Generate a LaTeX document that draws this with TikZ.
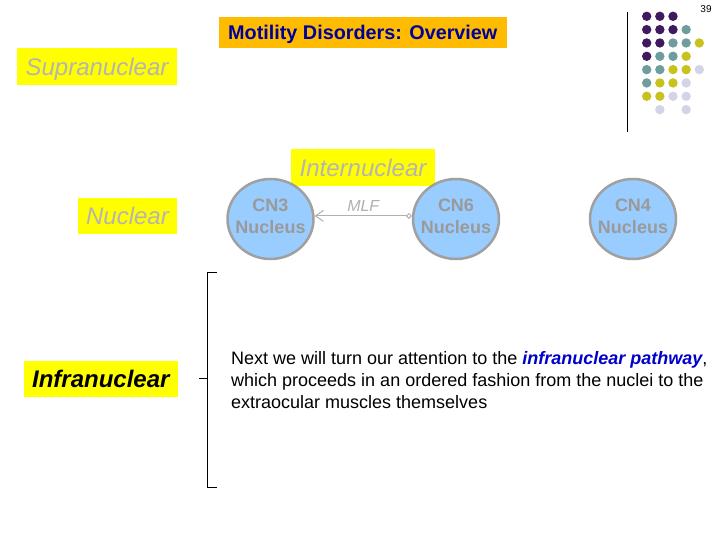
\documentclass[tikz,border=0pt]{standalone}
\usepackage{fontspec}
\setmainfont{Liberation Sans}
\usetikzlibrary{shapes.geometric,arrows.meta,calc}
\definecolor{titleorange}{HTML}{FFBB00}
\definecolor{titleblue}{HTML}{000099}
\definecolor{boxyellow}{HTML}{FFFF00}
\definecolor{fadedgray}{HTML}{B4B4B4}
\definecolor{nucfill}{HTML}{99CCFF}
\definecolor{nucborder}{HTML}{A0A0A0}
\definecolor{nuctext}{HTML}{9A9A9A}
\definecolor{linkgray}{HTML}{B0B0B0}
\definecolor{emphblue}{HTML}{0000CC}
\definecolor{dotpurple}{HTML}{3F1A5E}
\definecolor{dotteal}{HTML}{6F9C9C}
\definecolor{dotyellow}{HTML}{C8C21E}
\definecolor{dotlav}{HTML}{D4D4E8}
\tikzset{
  labelbox/.style={fill=boxyellow, inner sep=0pt, text height=17.2pt, text depth=0pt,
    font=\fontsize{24}{28}\selectfont\itshape},
  nucleus/.style={ellipse, draw=nucborder, line width=2.5pt, fill=nucfill, inner sep=0pt,
    minimum width=86pt, minimum height=80pt},
  nuclabel/.style={align=center, text=nuctext, inner sep=0pt,
    font=\fontsize{18}{22}\selectfont\bfseries},
  paraline/.style={anchor=base west, inner sep=0pt, font=\fontsize{18}{22}\selectfont},
  dot/.style={circle, inner sep=0pt, minimum size=9.4pt},
}
\begin{document}
\begin{tikzpicture}[x=1pt,y=-1pt]
\useasboundingbox[fill=white] (0,0) rectangle (720,540);
% slide number
\node[font=\fontsize{10}{12}\selectfont, inner sep=0pt] (num) at (706,9) {39};
% title
\node[fill=titleorange, text=titleblue, inner sep=0pt, minimum width=287.7pt, minimum height=31pt,
  text height=14.2pt, text depth=0pt, font=\fontsize{19.8}{24}\selectfont\bfseries] (title) at (362.8,32.8)
  {Motility Disorders: Overview};
% level boxes
\node[labelbox, text=fadedgray, minimum width=159.4pt, minimum height=36.7pt] (supra) at (97,66.7) {Supranuclear};
\node[labelbox, text=fadedgray, minimum width=144pt, minimum height=36.4pt] (inter) at (363,167.5) {Internuclear};
\node[labelbox, text=fadedgray, minimum width=98.4pt, minimum height=36pt] (nuc) at (127.5,216.3) {Nuclear};
\node[labelbox, text=black, minimum width=153.7pt, minimum height=36.3pt, font=\fontsize{24}{28}\selectfont\bfseries\itshape] (infra) at (100.8,379.2) {Infranuclear};
% nuclei
\node[nucleus] (cn3) at (270.5,219) {};
\node[nucleus] (cn6) at (456,219) {};
\node[nucleus] (cn4) at (633,219) {};
\node[nuclabel] (cn3t) at ($(cn3.center)+(0,-2.5)$) {CN3\\Nucleus};
\node[nuclabel] (cn6t) at ($(cn6.center)+(0,-2.5)$) {CN6\\Nucleus};
\node[nuclabel] (cn4t) at ($(cn4.center)+(0,-2.5)$) {CN4\\Nucleus};
% MLF connector
\draw[linkgray, line width=1pt, {Diamond[open,length=6pt,width=6pt]}-{Straight Barb[length=8pt,width=11pt]}]
  (cn6.176) -- node[above=3.5pt, text=linkgray, font=\fontsize{16}{19}\selectfont\itshape, inner sep=0pt] (mlf) {MLF} (cn3.4);
% bracket
\coordinate (btop) at (207,272);
\coordinate (bbot) at (207,487);
\coordinate (bmid) at (207,378);
\draw[black, line width=0.8pt] ($(btop)+(10,0)$) -- (btop) -- (bbot) -- ($(bbot)+(10,0)$);
\draw[black, line width=0.8pt] (bmid) -- ($(bmid)+(-8,0)$);
% paragraph
\node[paraline] (p1) at (231,364) {Next we will turn our attention to the \textcolor{emphblue}{\bfseries\itshape infranuclear pathway},};
\node[paraline] (p2) at (231,386) {which proceeds in an ordered fashion from the nuclei to the};
\node[paraline] (p3) at (231,408) {extraocular muscles themselves};
% decorative line and dots
\draw[black, line width=0.9pt] (627,12) -- (627,132);
\foreach \r/\row in {0/{P,P,P,N,N},1/{P,P,P,T,N},2/{P,P,T,T,Y},3/{P,T,T,Y,N},4/{T,T,Y,Y,L},5/{T,Y,Y,L,N},6/{Y,Y,L,L,N},7/{N,L,N,L,N}}{
  \foreach \k [count=\c from 0] in \row {
    \if\k N\else
      \if\k P\def\dc{dotpurple}\fi
      \if\k T\def\dc{dotteal}\fi
      \if\k Y\def\dc{dotyellow}\fi
      \if\k L\def\dc{dotlav}\fi
      \node[dot, fill=\dc] (d\r\c) at ({646.7+13.15*\c},{16.3+13.33*\r}) {};
    \fi
  }
}
\end{tikzpicture}
\end{document}
